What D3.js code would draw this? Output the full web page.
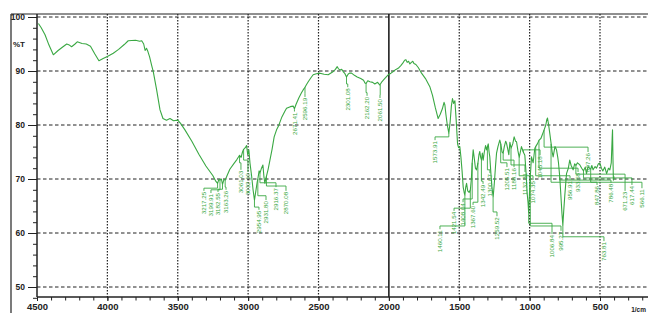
<!DOCTYPE html>
<html><head><meta charset="utf-8">
<script src="https://cdn.jsdelivr.net/npm/d3@7"></script>
<style>body{margin:0;background:#fff}svg{display:block}</style>
</head><body><svg id="c" width="648" height="313"></svg>
<script>
// ---- data ----
const spectrum = [
[4490,98.8],[4470,98.0],[4443,96.7],[4415,94.8],[4384,93.0],[4350,93.8],[4320,94.4],[4289,95.0],[4270,94.8],[4254,94.5],
[4230,95.0],[4214,95.4],[4180,95.1],[4150,95.0],[4120,94.6],[4090,93.2],[4060,91.9],[4030,92.3],[4000,92.7],[3958,93.3],
[3920,94.0],[3880,94.9],[3852,95.6],[3800,95.7],[3770,95.5],[3756,95.6],[3742,95.0],[3732,93.8],[3722,94.2],[3712,93.6],
[3700,92.6],[3685,91.0],[3674,89.9],[3650,86.5],[3626,82.8],[3605,81.2],[3580,80.9],[3555,81.2],[3530,80.8],[3500,80.9],
[3480,80.3],[3449,79.1],[3400,77.0],[3350,74.6],[3300,72.4],[3250,70.6],[3230,69.6],[3217,69.2],[3208,69.9],[3200,69.8],
[3190,70.0],[3182,69.0],[3172,69.9],[3163,69.8],[3150,70.6],[3130,71.8],[3100,72.9],[3080,73.6],[3061,74.4],[3050,74.0],
[3040,75.0],[3032,75.5],[3020,75.8],[3011,76.2],[3003,74.5],[2995,75.4],[2987,73.0],[2975,70.5],[2965,68.0],[2955,66.1],
[2945,67.8],[2935,69.5],[2931,70.0],[2922,71.5],[2916,71.1],[2905,72.0],[2895,72.6],[2888,70.5],[2881,69.2],[2875,70.0],
[2870,70.5],[2858,71.8],[2845,73.5],[2830,75.5],[2815,77.8],[2798,79.1],[2786,79.7],[2760,81.5],[2740,82.5],[2727,83.1],
[2700,83.4],[2680,83.5],[2671,83.0],[2660,83.8],[2640,85.0],[2620,86.0],[2609,86.5],[2596,87.0],[2585,87.5],[2573,88.0],
[2555,88.7],[2538,89.3],[2515,89.5],[2490,89.6],[2460,89.4],[2431,89.3],[2400,89.8],[2380,90.3],[2367,90.8],[2358,90.4],
[2348,90.2],[2335,90.3],[2325,89.9],[2312,89.5],[2301,88.9],[2290,89.4],[2280,89.6],[2265,89.6],[2245,89.2],[2225,88.9],
[2200,88.6],[2180,88.3],[2170,87.8],[2162,87.7],[2150,88.2],[2135,88.0],[2115,87.9],[2100,87.6],[2080,87.9],[2064,87.4],
[2050,88.0],[2030,88.6],[2005,89.3],[1985,89.6],[1969,89.9],[1950,90.3],[1934,90.5],[1915,91.0],[1900,91.5],[1888,92.0],
[1879,92.1],[1870,91.6],[1860,91.8],[1851,91.3],[1840,91.6],[1830,91.8],[1822,91.4],[1808,91.2],[1790,90.6],[1768,89.6],
[1740,88.6],[1709,87.1],[1690,85.5],[1670,83.2],[1650,81.2],[1635,82.0],[1620,83.0],[1608,84.2],[1602,83.7],[1595,82.0],
[1585,80.0],[1574,78.5],[1565,80.5],[1556,83.5],[1548,84.9],[1540,84.0],[1531,84.5],[1522,81.0],[1512,76.5],[1505,75.8],
[1496,76.0],[1488,74.0],[1480,71.5],[1472,68.5],[1465,67.5],[1460,67.0],[1454,68.5],[1448,69.2],[1440,67.8],[1430,67.5],
[1421,68.0],[1414,70.0],[1408,73.0],[1401,75.4],[1394,74.0],[1385,72.0],[1377,71.7],[1367,73.0],[1360,74.5],[1354,75.1],
[1348,74.0],[1342,73.5],[1336,74.8],[1330,73.5],[1322,75.0],[1313,76.2],[1306,75.4],[1300,76.0],[1294,76.5],[1288,75.0],
[1283,74.1],[1275,71.0],[1268,68.5],[1259,66.7],[1250,69.5],[1242,72.5],[1235,74.8],[1225,76.0],[1212,77.2],[1205,76.5],
[1196,75.0],[1188,74.8],[1180,76.0],[1170,77.0],[1164,76.6],[1155,75.5],[1148,74.5],[1140,76.8],[1132,75.7],[1120,76.5],
[1110,77.8],[1100,77.0],[1093,76.9],[1083,75.2],[1074,74.0],[1066,75.0],[1058,76.0],[1045,75.0],[1034,74.4],[1025,71.0],
[1018,67.5],[1011,65.5],[1007,63.8],[1000,68.0],[995,70.5],[987,74.1],[975,73.0],[963,75.7],[957,76.0],[945,76.5],
[933,77.2],[920,77.5],[910,78.2],[897,79.1],[885,80.0],[878,81.0],[873,81.3],[865,80.0],[857,78.5],[847,76.5],
[840,75.0],[833,74.1],[820,76.0],[809,75.4],[800,74.0],[795,73.0],[786,70.4],[778,67.0],[770,63.5],[764,61.5],
[758,64.0],[750,67.0],[738,71.0],[725,72.0],[715,73.5],[705,72.5],[691,71.7],[680,72.8],[671,72.5],[660,73.0],
[643,72.6],[630,72.0],[617,71.5],[605,72.2],[596,71.0],[585,72.3],[575,72.0],[566,71.8],[558,72.5],[549,71.7],
[535,72.3],[525,72.0],[512,72.8],[500,72.9],[490,72.0],[480,71.5],[466,72.2],[453,71.0],[440,72.0],[430,71.7],
[420,73.0],[413,78.0],[411,79.1],[408,74.0],[405,69.8],[400,70.5]
];
const xTicks = [4500,4000,3500,3000,2500,2000,1500,1000,500];
const yTicks = [50,60,70,80,90,100];
const peakLabels = ["3217.25","3199.91","3182.55","3163.26","3061.03","3032.10","2954.95","2931.80","2916.37","2870.08",
  "2671.41","2596.19","2301.08","2162.20","2061.50","1573.91","1460.11","1421.54","1408.04","1367.60",
  "1342.49","1300.07","1259.52","1205.51","1188.16","1132.31","1074.35","1045.18","1006.84","995.27",
  "956.91","933.58","897.26","847.86","786.48","763.81","671.23","617.44","566.11"];
const peakWn = [3217,3200,3182,3163,3061,3032,2955,2931,2916,2870,
  2671,2596,2301,2162,2061.5,1574,1460,1421.5,1408,1367.6,
  1342.5,1300,1259.5,1205.5,1188,1132.3,1074.4,1045.2,1006.8,995.3,
  956.9,933.6,897.3,847.9,786.5,763.8,671.2,617.4,566.1];
const peakT = [69.2,69.8,69.0,69.8,74.4,75.5,66.1,70.0,71.1,70.5,
  83.0,87.0,88.9,87.7,87.4,78.5,67.0,68.0,73.0,73.0,
  73.5,76.0,66.7,76.5,74.8,75.7,74.0,75.0,63.8,70.5,
  76.0,77.2,79.1,76.5,70.4,61.5,72.5,71.5,71.8];
const labelWn = [3314,3264,3214,3157,3051,3001,2923,2873,2802,2731,
  2671,2596,2292,2155,2063,1672,1637,1537,1473,1402,
  1331,1282,1232,1161,1111,1033,976,926,841,777,
  713,656,585,521,422,472,322,273,202];
const labelTopT = [67.8,67.4,67.6,68.0,71.7,71.3,64.3,66.1,68.5,67.8,
  82.5,85.2,87.0,85.4,85.0,77.2,60.7,64.1,65.7,65.2,
  69.1,71.1,63.1,72.2,72.2,71.3,69.8,74.4,59.8,60.4,
  69.8,71.3,75.0,68.9,69.3,58.5,67.8,68.9,68.3];
const elbowT = [68.3,68.0,68.1,68.5,73.0,73.5,64.8,66.9,69.3,68.7,
  82.9,85.8,87.6,86.0,85.6,77.8,61.3,64.6,66.3,65.7,
  69.6,71.7,63.9,73.0,73.5,72.6,70.6,75.4,61.8,61.3,
  70.6,72.0,75.9,69.4,69.8,59.3,70.9,70.2,69.4];

// ---- layout ----
const W = 648, H = 313;
const L = 37, R = 648, T0 = 14, B = 297;
const green = "#3aa843", ink = "#222";
const font = "'Liberation Sans', Arial, sans-serif";
const svg = d3.select("#c");
const x = d3.scaleLinear().domain([4500, 500]).range([37, 600]);
const y = d3.scaleLinear().domain([50, 100]).range([287, 17]);

svg.append("defs").append("clipPath").attr("id","clip")
  .append("rect").attr("x",L).attr("y",T0).attr("width",R-L).attr("height",B-T0);

// outer frame
svg.append("line").attr("x1",11).attr("x2",11).attr("y1",T0).attr("y2",H).attr("stroke",ink).attr("stroke-width",1.2);
svg.append("line").attr("x1",11).attr("x2",R).attr("y1",T0).attr("y2",T0).attr("stroke",ink).attr("stroke-width",1.2);

// grid
const grid = svg.append("g");
grid.selectAll("line.h").data(yTicks).join("line")
  .attr("x1",L).attr("x2",R).attr("y1",d=>y(d)).attr("y2",d=>y(d))
  .attr("stroke",ink).attr("stroke-width",1).attr("stroke-dasharray","3.5,2.5");
grid.selectAll("line.v").data(xTicks.filter(d=>d!==4500)).join("line")
  .attr("x1",d=>x(d)).attr("x2",d=>x(d)).attr("y1",T0).attr("y2",B)
  .attr("stroke",d=>d===2000?"#111":ink)
  .attr("stroke-width",d=>d===2000?1.5:1.2)
  .attr("stroke-dasharray",d=>d===2000?null:"1.5,1.5");

// axes lines
svg.append("line").attr("x1",L).attr("x2",L).attr("y1",T0).attr("y2",B).attr("stroke",ink).attr("stroke-width",1.5);
svg.append("line").attr("x1",L).attr("x2",R).attr("y1",B).attr("y2",B).attr("stroke",ink).attr("stroke-width",1.5);

// y axis
const yMinor = svg.append("g").attr("transform",`translate(${L},0)`)
  .call(d3.axisLeft(y).tickValues(d3.range(48,101,2)).tickSize(4).tickFormat(""));
yMinor.select(".domain").remove();
const yAx = svg.append("g").attr("transform",`translate(${L},0)`)
  .call(d3.axisLeft(y).tickValues(yTicks).tickSize(9).tickPadding(3).tickFormat(d3.format("d")));
yAx.select(".domain").remove();
yAx.selectAll("text").attr("font-family",font).attr("font-size",8.5).attr("font-weight","bold").attr("fill",ink);
svg.selectAll(".tick line").attr("stroke",ink);
svg.append("text").attr("x",13).attr("y",y(95)+3).text("%T")
  .attr("font-family",font).attr("font-size",8).attr("font-weight","bold").attr("fill",ink);

// x axis
const xMinor = svg.append("g").attr("transform",`translate(0,${B})`)
  .call(d3.axisBottom(x).tickValues(d3.range(4500,150,-100)).tickSize(3.5).tickFormat(""));
xMinor.select(".domain").remove();
const xAx = svg.append("g").attr("transform",`translate(0,${B})`)
  .call(d3.axisBottom(x).tickValues(xTicks).tickSize(4).tickPadding(2).tickFormat(d3.format("d")));
xAx.select(".domain").remove();
xAx.selectAll("text").attr("font-family",font).attr("font-size",9.5).attr("font-weight","bold").attr("fill",ink);
svg.selectAll(".tick line").attr("stroke",ink);
svg.append("text").attr("x",646).attr("y",312).attr("text-anchor","end").text("1/cm")
  .attr("font-family",font).attr("font-size",6.5).attr("font-weight","bold").attr("fill",ink);

// spectrum
const plot = svg.append("g").attr("clip-path","url(#clip)");
const line = d3.line().x(d=>x(d[0])).y(d=>y(d[1]));
plot.append("path").datum(spectrum).attr("d",line)
  .attr("fill","none").attr("stroke",green).attr("stroke-width",1.1).attr("stroke-linejoin","round");

// peak labels with leader lines
const lab = plot.append("g");
peakLabels.forEach((t,i)=>{
  const pts = [[peakWn[i],peakT[i]],[peakWn[i],elbowT[i]],[labelWn[i],elbowT[i]],[labelWn[i],labelTopT[i]]];
  lab.append("path").attr("d",line(pts)).attr("fill","none").attr("stroke",green).attr("stroke-width",0.9);
  const lx = x(labelWn[i]), ly = y(labelTopT[i]);
  lab.append("text").attr("transform",`translate(${lx},${ly+1}) rotate(-90)`)
    .attr("text-anchor","end").attr("dy","0.35em")
    .attr("font-family",font).attr("font-size",6.2)
    .attr("fill",green).text(t);
});
</script></body></html>
